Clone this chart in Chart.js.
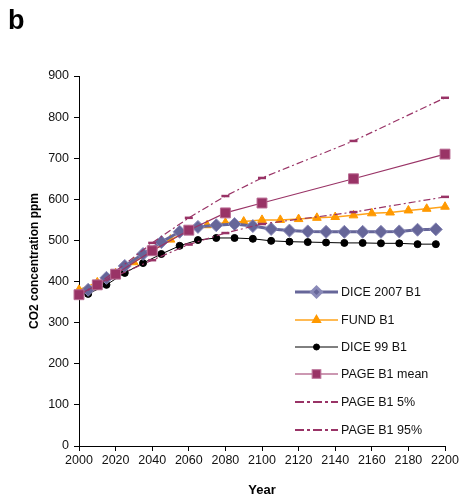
<!DOCTYPE html>
<html>
<head>
<meta charset="utf-8">
<script src="https://cdn.jsdelivr.net/npm/chart.js@4/dist/chart.umd.min.js"></script>
<style>
  html, body { margin: 0; padding: 0; background: #fff; }
  #wrap { width: 469px; height: 498px; position: relative; }
</style>
</head>
<body>
<div id="wrap"><canvas id="chart"></canvas></div>
<script>
// years for each series
const diceYears = [2005, 2015, 2025, 2035, 2045, 2055, 2065, 2075, 2085, 2095,
                   2105, 2115, 2125, 2135, 2145, 2155, 2165, 2175, 2185, 2195];
const fundYears = [2000, 2010, 2020, 2030, 2040, 2050, 2060, 2070, 2080, 2090, 2100,
                   2110, 2120, 2130, 2140, 2150, 2160, 2170, 2180, 2190, 2200];
const pageYears = [2000, 2010, 2020, 2040, 2060, 2080, 2100, 2150, 2200];

// CO2 concentration (ppm)
const dice2007B1 = [380, 409, 438, 467, 496, 521, 533, 537, 540, 535,
                    528, 524, 522, 521, 521, 521, 521, 522, 526, 527];
const fundB1 = [380, 398, 420, 447, 474, 502, 524, 537, 543, 546, 550,
                550, 552, 555, 557, 561, 566, 568, 573, 577, 582];
const dice99B1 = [370, 392, 421, 445, 467, 487, 501, 506, 506, 504,
                  499, 497, 496, 495, 494, 494, 493, 493, 491, 491];
const pageMean = [368, 392, 418, 475, 525, 567, 591, 650, 710];
const page5 = [368, 390, 413, 452, 490, 518, 540, 569, 606];
const page95 = [368, 394, 425, 494, 555, 608, 652, 742, 847];

const seriesLabels = ['DICE 2007 B1', 'FUND B1', 'DICE 99 B1', 'PAGE B1 mean', 'PAGE B1 5%', 'PAGE B1 95%'];
const yTicks = [0, 100, 200, 300, 400, 500, 600, 700, 800, 900];
const xTicks = [2000, 2020, 2040, 2060, 2080, 2100, 2120, 2140, 2160, 2180, 2200];

const pts = (xs, ys) => xs.map((x, i) => ({ x: x, y: ys[i] }));

const PAGE_COL = '#993366';
const FONT = "'Liberation Sans', Arial, sans-serif";

// legend like the spreadsheet one: a short line with the marker in the middle
const sheetLegend = {
  id: 'sheetLegend',
  afterDraw(chart) {
    const c = chart.ctx;
    const rows = [292, 320, 347, 374, 402, 430];
    chart.data.datasets.forEach((ds, i) => {
      const y = rows[i];
      c.save();
      c.strokeStyle = ds.borderColor;
      c.lineWidth = ds.legendMarker ? ds.borderWidth : 2;
      c.setLineDash(ds.legendMarker ? [] : [9, 3, 3, 3]);
      c.beginPath();
      c.moveTo(295, y);
      c.lineTo(338, y);
      c.stroke();
      c.setLineDash([]);
      if (ds.legendMarker) {
        c.fillStyle = ds.backgroundColor;
        c.strokeStyle = ds.pointBorderColor || ds.backgroundColor;
        Chart.helpers.drawPoint(c, { pointStyle: ds.pointStyle, radius: ds.legendRadius, borderWidth: 1 }, 316.5, y);
      }
      c.restore();
      c.save();
      c.fillStyle = '#111';
      c.font = '12.5px ' + FONT;
      c.textBaseline = 'middle';
      c.fillText(ds.label, 341, y + 1);
      c.restore();
    });
    // panel letter
    c.save();
    c.fillStyle = '#000';
    c.font = 'bold 27px ' + FONT;
    c.fillText('b', 8, 29);
    c.restore();
  }
};

const ctx = document.getElementById('chart').getContext('2d');
new Chart(ctx, {
  type: 'line',
  data: {
    datasets: [
      {
        label: seriesLabels[0],
        data: pts(diceYears, dice2007B1),
        borderColor: '#666699',
        backgroundColor: '#666699',
        pointBorderColor: '#8a8ab8',
        borderWidth: 3,
        pointStyle: 'rectRot',
        pointRadius: 6.5,
        pointBorderWidth: 1,
        legendMarker: true, legendRadius: 5,
        order: 3
      },
      {
        label: seriesLabels[1],
        data: pts(fundYears, fundB1),
        borderColor: '#FFA31A',
        backgroundColor: '#FF9900',
        pointBorderColor: '#FF9900',
        borderWidth: 1.5,
        pointStyle: 'triangle',
        pointRadius: 5,
        pointBorderWidth: 1,
        legendMarker: true, legendRadius: 4.5,
        order: 4
      },
      {
        label: seriesLabels[2],
        data: pts(diceYears, dice99B1),
        borderColor: '#000',
        backgroundColor: '#000',
        borderWidth: 1,
        pointStyle: 'circle',
        pointRadius: 3.5,
        pointBorderWidth: 1,
        legendMarker: true, legendRadius: 3,
        order: 5
      },
      {
        label: seriesLabels[3],
        data: pts(pageYears, pageMean),
        borderColor: PAGE_COL,
        backgroundColor: PAGE_COL,
        pointBorderColor: '#b86a92',
        borderWidth: 1.2,
        pointStyle: 'rect',
        pointRadius: 7,
        pointBorderWidth: 1,
        legendMarker: true, legendRadius: 6,
        order: 0
      },
      {
        label: seriesLabels[4],
        data: pts(pageYears, page5),
        borderColor: PAGE_COL,
        backgroundColor: PAGE_COL,
        borderWidth: 1.2,
        borderDash: [7, 3, 2, 3],
        pointStyle: 'line',
        pointRadius: 4,
        pointBorderWidth: 2.5,
        legendMarker: false,
        order: 2
      },
      {
        label: seriesLabels[5],
        data: pts(pageYears, page95),
        borderColor: PAGE_COL,
        backgroundColor: PAGE_COL,
        borderWidth: 1.2,
        borderDash: [7, 3, 2, 3],
        pointStyle: 'line',
        pointRadius: 4,
        pointBorderWidth: 2.5,
        legendMarker: false,
        order: 1
      }
    ]
  },
  options: {
    responsive: true,
    maintainAspectRatio: false,
    animation: false,
    clip: false,
    layout: { padding: { top: 76, right: 24, left: 27, bottom: 0 } },
    elements: { line: { tension: 0 } },
    scales: {
      x: {
        type: 'linear',
        min: 2000,
        max: 2200,
        afterBuildTicks: (scale) => { scale.ticks = xTicks.map(v => ({ value: v })); },
        afterFit: (scale) => { scale.height = 52; },
        grid: { display: true, drawOnChartArea: false, drawTicks: true, tickLength: 5, color: '#000' },
        border: { display: true, color: '#000', width: 1 },
        ticks: {
          color: '#111',
          font: { family: FONT, size: 12.5 },
          padding: 2,
          maxRotation: 0,
          autoSkip: false,
          callback: (v) => String(v)
        },
        title: {
          display: true,
          text: 'Year',
          color: '#000',
          font: { family: FONT, size: 13, weight: 'bold' },
          padding: { top: 7, bottom: 0 }
        }
      },
      y: {
        min: 0,
        max: 900,
        afterBuildTicks: (scale) => { scale.ticks = yTicks.map(v => ({ value: v })); },
        afterFit: (scale) => { scale.width = 52; },
        grid: { display: true, drawOnChartArea: false, drawTicks: true, tickLength: 5, color: '#000' },
        border: { display: true, color: '#000', width: 1 },
        ticks: {
          color: '#111',
          font: { family: FONT, size: 12.5 },
          padding: 5
        },
        title: {
          display: true,
          text: 'CO2 concentration ppm',
          color: '#000',
          font: { family: FONT, size: 12, weight: 'bold' },
          padding: { top: 0, bottom: 4 }
        }
      }
    },
    plugins: {
      legend: { display: false },
      tooltip: { enabled: false }
    }
  },
  plugins: [sheetLegend]
});
</script>
</body>
</html>
